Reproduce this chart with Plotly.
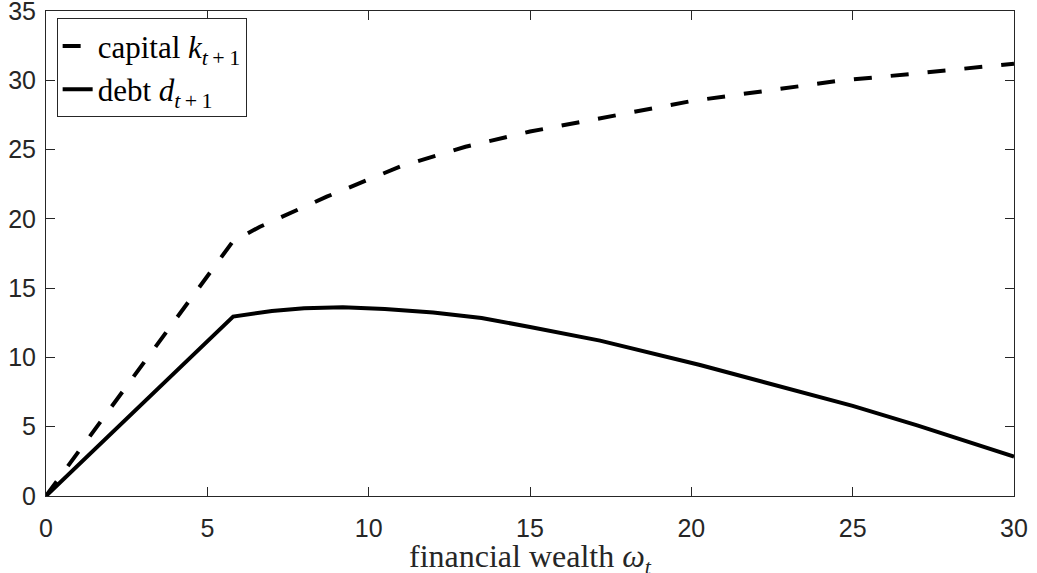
import plotly.graph_objects as go

# data
wealth_capital = [0, 5.8, 6.63, 8.7, 10.97, 13.0, 15.0, 17.0, 20.0, 22.5, 24.6, 27.0, 30.0]
capital = [0, 18.4, 19.43, 21.6, 23.77, 25.2, 26.3, 27.2, 28.5, 29.3, 29.97, 30.5, 31.2]

wealth_debt = [0, 5.8, 7.0, 8.0, 9.2, 10.5, 12.0, 13.5, 15.0, 17.17, 20.27, 23.57, 25.0, 27.0, 30.0]
debt = [0, 12.95, 13.35, 13.55, 13.62, 13.5, 13.25, 12.85, 12.2, 11.21, 9.45, 7.41, 6.5, 5.1, 2.84]

x_ticks = [0, 5, 10, 15, 20, 25, 30]
y_ticks = [0, 5, 10, 15, 20, 25, 30, 35]

axis_color = "#262626"
serif = "Liberation Serif, Times New Roman, serif"
sans = "Liberation Sans, Arial, Helvetica, sans-serif"

sub = lambda s: "<sub><span style='font-size:22px'>" + s + "</span></sub>"

fig = go.Figure()
fig.add_trace(go.Scatter(
    x=wealth_capital, y=capital, mode="lines",
    name="capital <i>k</i>" + sub("<i>t</i>\u2009+\u20091"),
    line=dict(color="black", width=4, dash="18px,19px"),
))
fig.add_trace(go.Scatter(
    x=wealth_debt, y=debt, mode="lines",
    name="debt <i>d</i>" + sub("<i>t</i>\u2009+\u20091"),
    line=dict(color="black", width=4),
))

axis_common = dict(
    showgrid=False, zeroline=False, showline=True, linecolor=axis_color,
    linewidth=1, mirror="ticks", ticks="inside", ticklen=9, tickwidth=1,
    tickcolor=axis_color, tickfont=dict(family=sans, size=25, color=axis_color),
    ticklabeloverflow="allow",
)

fig.update_layout(
    width=1037, height=573,
    margin=dict(l=46, r=23, t=11, b=77, autoexpand=False),
    paper_bgcolor="white", plot_bgcolor="white",
    showlegend=True,
    legend=dict(
        x=0.011, y=0.985, xanchor="left", yanchor="top",
        bgcolor="white", bordercolor=axis_color, borderwidth=1,
        font=dict(family=serif, size=31, color="black"),
        tracegroupgap=0, itemwidth=30,
    ),
    xaxis=dict(
        range=[0, 30], tickvals=x_ticks, ticktext=[str(v) for v in x_ticks],
        ticklabelstandoff=10,
        **axis_common,
    ),
    yaxis=dict(
        range=[0, 35], tickvals=y_ticks, ticktext=[str(v) for v in y_ticks],
        ticklabelstandoff=4,
        **axis_common,
    ),
    annotations=[dict(
        text="financial wealth <i>ω</i>" + sub("<i>t</i>"),
        xref="paper", yref="paper", x=0.5, y=-0.128,
        xanchor="center", yanchor="middle", showarrow=False,
        font=dict(family=serif, size=32, color=axis_color),
    )],
)

fig.write_html("out.html")
